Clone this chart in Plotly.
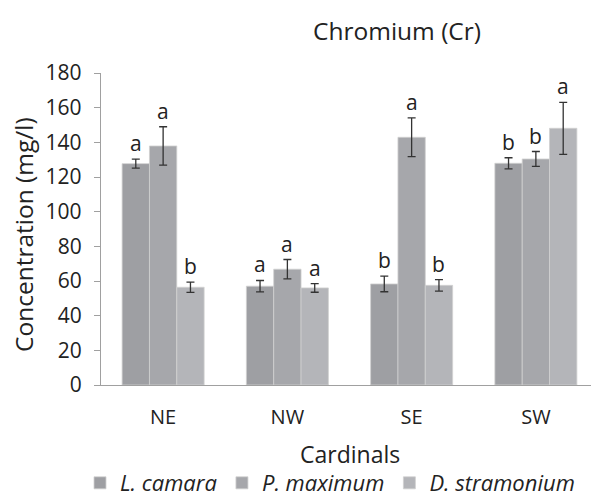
import plotly.graph_objects as go

categories = ["NE", "NW", "SE", "SW"]
species = ["L. camara", "P. maximum", "D. stramonium"]
l_camara = [127.7, 57.0, 58.3, 127.9]
p_maximum = [137.9, 66.8, 142.9, 130.4]
d_stramonium = [56.4, 56.0, 57.5, 148.1]
l_camara_err = [2.6, 3.3, 4.5, 3.2]
p_maximum_err = [11.1, 5.6, 11.2, 4.3]
d_stramonium_err = [3.0, 2.5, 3.3, 15.0]
l_camara_letters = ["a", "a", "b", "b"]
p_maximum_letters = ["a", "a", "a", "b"]
d_stramonium_letters = ["b", "a", "b", "a"]
colors = ["#9e9fa3", "#a6a7ab", "#b4b5b9"]

values = [l_camara, p_maximum, d_stramonium]
errors = [l_camara_err, p_maximum_err, d_stramonium_err]
letters = [l_camara_letters, p_maximum_letters, d_stramonium_letters]

FONT = "Open Sans, Noto Sans, DejaVu Sans, sans-serif"
TXT = "#222222"
OFF = 8  # default page body margin
W, H = 599 - OFF, 498 - OFF
ML, MR, MT, MB = 101 - OFF, 1, 73 - OFF, 113
PW, PH = W - ML - MR, H - MT - MB


def px_x(x):
    return (x - OFF - ML) / PW


def px_y(y):
    return (H - MB - (y - OFF)) / PH


fig = go.Figure()
for i, name in enumerate(species):
    fig.add_trace(go.Bar(
        x=categories, y=values[i], name=f"<i>{name}</i>",
        marker=dict(color=colors[i], line=dict(color="#d0d0d0", width=0.8)),
        error_y=dict(type="data", array=errors[i], visible=True,
                     color="#333333", thickness=1.3, width=4),
    ))

bargap = 0.34
bw = (1 - bargap) / 3
annotations = []
for i in range(3):
    for j, c in enumerate(categories):
        annotations.append(dict(
            x=j + (i - 1) * bw, y=values[i][j] + errors[i][j],
            xref="x", yref="y", text=letters[i][j], showarrow=False,
            yanchor="bottom", yshift=0,
            font=dict(size=21, color=TXT, family=FONT)))
annotations.append(dict(x=px_x(397), y=px_y(30), xref="paper", yref="paper",
                        text="Chromium (Cr)", showarrow=False,
                        xanchor="center", yanchor="middle",
                        font=dict(size=24.5, color=TXT, family=FONT)))
annotations.append(dict(x=px_x(350), y=px_y(454), xref="paper", yref="paper",
                        text="Cardinals", showarrow=False,
                        xanchor="center", yanchor="middle",
                        font=dict(size=23, color=TXT, family=FONT)))
annotations.append(dict(x=px_x(24), y=px_y(235), xref="paper", yref="paper",
                        text="Concentration (mg/l)", showarrow=False, textangle=-90,
                        xanchor="center", yanchor="middle",
                        font=dict(size=24.5, color=TXT, family=FONT)))

fig.update_layout(
    width=W, height=H,
    margin=dict(l=ML, r=MR, t=MT, b=MB, autoexpand=False),
    paper_bgcolor="white", plot_bgcolor="white",
    barmode="group", bargap=bargap, bargroupgap=0,
    font=dict(family=FONT, color=TXT),
    showlegend=True,
    legend=dict(orientation="h", xref="container", yref="container",
                x=(330 - OFF) / W, xanchor="center", y=(H - (483 - OFF)) / H, yanchor="middle",
                font=dict(size=22, color=TXT, family=FONT),
                itemwidth=30, tracegroupgap=0, bgcolor="rgba(0,0,0,0)"),
    xaxis=dict(
        automargin=False,
        showline=True, linecolor="#a0a0a0", linewidth=1.3, ticks="",
        tickfont=dict(size=20, color=TXT), ticklabelstandoff=14,
        showgrid=False,
    ),
    yaxis=dict(
        automargin=False,
        range=[0, 180], dtick=20, showline=True, linecolor="#a0a0a0", linewidth=1.3,
        ticks="outside", ticklen=6, tickcolor="#a0a0a0", ticklabelstandoff=8,
        tickfont=dict(size=21, color=TXT), showgrid=False, zeroline=False,
    ),
    annotations=annotations,
)
fig.write_html("out.html")
